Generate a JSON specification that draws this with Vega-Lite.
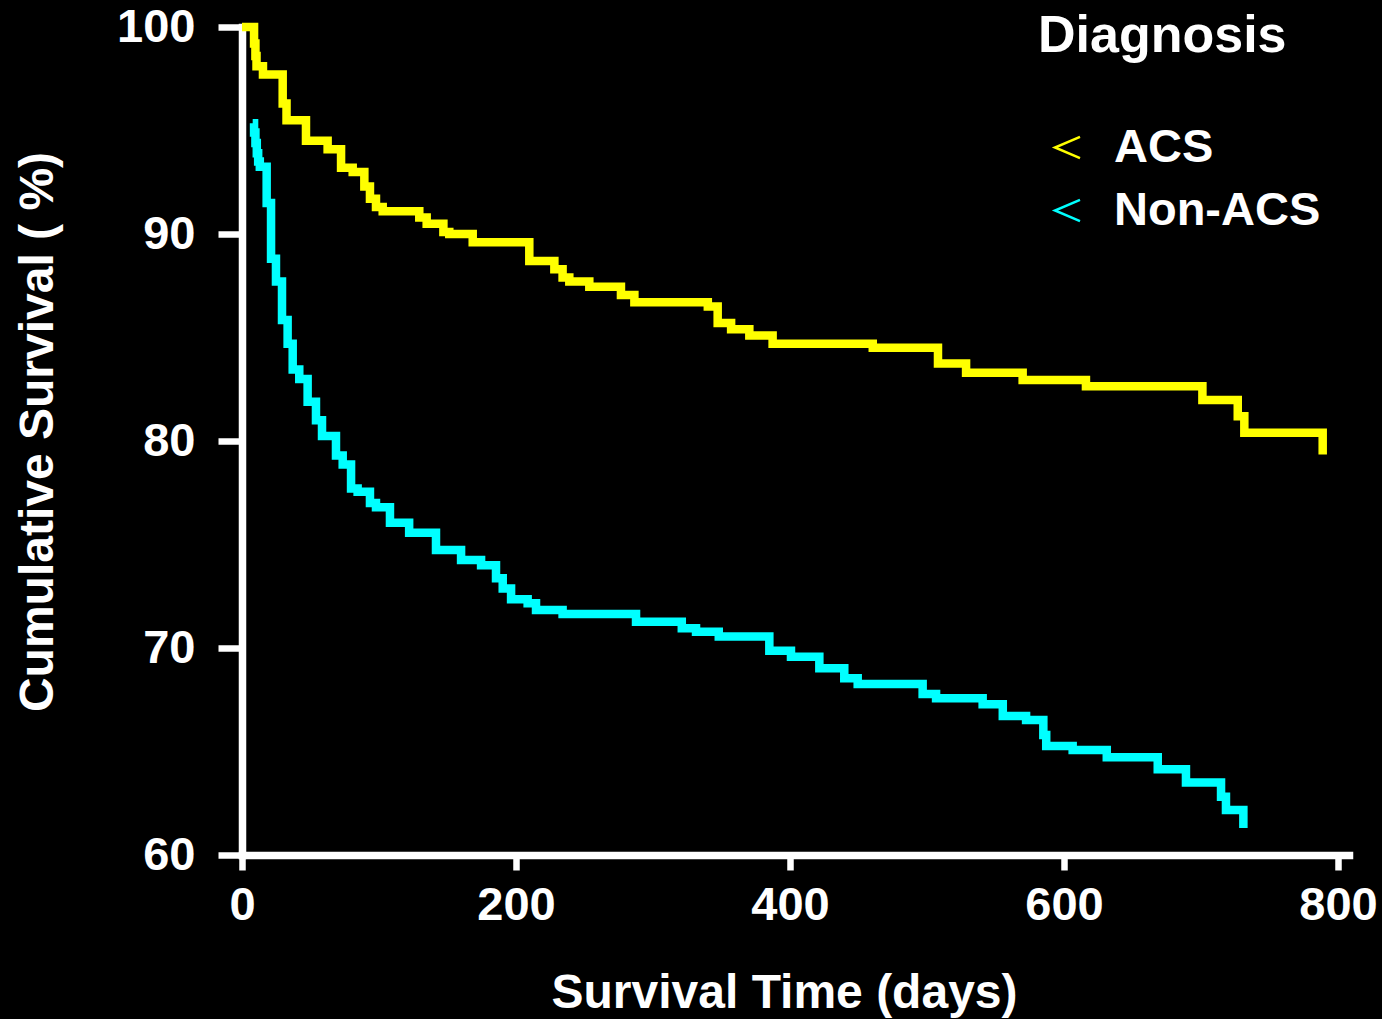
{
  "$schema": "https://vega.github.io/schema/vega-lite/v6.json",
  "width": 1107,
  "height": 828,
  "autosize": {"type": "none"},
  "padding": {"left": 242, "top": 27, "right": 33, "bottom": 164},
  "background": "black",
  "config": {
    "view": {"stroke": null},
    "font": "Liberation Sans"
  },
  "data": {
    "values": [
      {"group": "ACS", "day": 0, "pct": 100},
      {"group": "ACS", "day": 8.8, "pct": 99.2},
      {"group": "ACS", "day": 9.8, "pct": 98.6},
      {"group": "ACS", "day": 10.6, "pct": 98.1},
      {"group": "ACS", "day": 15.3, "pct": 97.7},
      {"group": "ACS", "day": 29.7, "pct": 96.3},
      {"group": "ACS", "day": 32.5, "pct": 95.5},
      {"group": "ACS", "day": 46.7, "pct": 94.5},
      {"group": "ACS", "day": 62.5, "pct": 94.1},
      {"group": "ACS", "day": 72.3, "pct": 93.2},
      {"group": "ACS", "day": 80.8, "pct": 93.0},
      {"group": "ACS", "day": 89.3, "pct": 92.3},
      {"group": "ACS", "day": 93.4, "pct": 91.7},
      {"group": "ACS", "day": 97.8, "pct": 91.3},
      {"group": "ACS", "day": 102.7, "pct": 91.1},
      {"group": "ACS", "day": 129.4, "pct": 90.8},
      {"group": "ACS", "day": 134.8, "pct": 90.5},
      {"group": "ACS", "day": 147, "pct": 90.1},
      {"group": "ACS", "day": 151.3, "pct": 90.0},
      {"group": "ACS", "day": 168.4, "pct": 89.6},
      {"group": "ACS", "day": 209.7, "pct": 88.7},
      {"group": "ACS", "day": 228, "pct": 88.3},
      {"group": "ACS", "day": 234, "pct": 87.9},
      {"group": "ACS", "day": 238.9, "pct": 87.7},
      {"group": "ACS", "day": 253.5, "pct": 87.45},
      {"group": "ACS", "day": 276.6, "pct": 87.05},
      {"group": "ACS", "day": 286.4, "pct": 86.7},
      {"group": "ACS", "day": 340, "pct": 86.5},
      {"group": "ACS", "day": 347.2, "pct": 85.7},
      {"group": "ACS", "day": 357, "pct": 85.4},
      {"group": "ACS", "day": 370.3, "pct": 85.1},
      {"group": "ACS", "day": 387.3, "pct": 84.7},
      {"group": "ACS", "day": 460.4, "pct": 84.5},
      {"group": "ACS", "day": 508, "pct": 83.75},
      {"group": "ACS", "day": 528.5, "pct": 83.3},
      {"group": "ACS", "day": 569.8, "pct": 82.95},
      {"group": "ACS", "day": 616, "pct": 82.65},
      {"group": "ACS", "day": 701, "pct": 81.98},
      {"group": "ACS", "day": 726.8, "pct": 81.2},
      {"group": "ACS", "day": 731.6, "pct": 80.4},
      {"group": "ACS", "day": 788.8, "pct": 79.35},
      {"group": "Non-ACS", "day": 7.8, "pct": 95.35},
      {"group": "Non-ACS", "day": 8.8, "pct": 94.9},
      {"group": "Non-ACS", "day": 9.8, "pct": 94.4},
      {"group": "Non-ACS", "day": 10.8, "pct": 93.9},
      {"group": "Non-ACS", "day": 11.8, "pct": 93.5},
      {"group": "Non-ACS", "day": 13, "pct": 93.25},
      {"group": "Non-ACS", "day": 18, "pct": 91.5},
      {"group": "Non-ACS", "day": 21.2, "pct": 88.8},
      {"group": "Non-ACS", "day": 24.8, "pct": 87.7},
      {"group": "Non-ACS", "day": 29.2, "pct": 85.85},
      {"group": "Non-ACS", "day": 33.3, "pct": 84.7},
      {"group": "Non-ACS", "day": 37, "pct": 83.46},
      {"group": "Non-ACS", "day": 41.8, "pct": 83.0},
      {"group": "Non-ACS", "day": 47.9, "pct": 81.9},
      {"group": "Non-ACS", "day": 54, "pct": 81.0},
      {"group": "Non-ACS", "day": 58.4, "pct": 80.24},
      {"group": "Non-ACS", "day": 68.6, "pct": 79.3},
      {"group": "Non-ACS", "day": 73.5, "pct": 78.87},
      {"group": "Non-ACS", "day": 79.6, "pct": 77.7},
      {"group": "Non-ACS", "day": 84.4, "pct": 77.55},
      {"group": "Non-ACS", "day": 93.4, "pct": 77.0},
      {"group": "Non-ACS", "day": 97.8, "pct": 76.8},
      {"group": "Non-ACS", "day": 108, "pct": 76.05},
      {"group": "Non-ACS", "day": 122, "pct": 75.57},
      {"group": "Non-ACS", "day": 141.6, "pct": 74.73},
      {"group": "Non-ACS", "day": 159.9, "pct": 74.25},
      {"group": "Non-ACS", "day": 174.5, "pct": 74.0},
      {"group": "Non-ACS", "day": 185.4, "pct": 73.37},
      {"group": "Non-ACS", "day": 190.3, "pct": 72.88},
      {"group": "Non-ACS", "day": 196.4, "pct": 72.35},
      {"group": "Non-ACS", "day": 208.5, "pct": 72.16},
      {"group": "Non-ACS", "day": 214.6, "pct": 71.84},
      {"group": "Non-ACS", "day": 234, "pct": 71.64},
      {"group": "Non-ACS", "day": 287.6, "pct": 71.27},
      {"group": "Non-ACS", "day": 321, "pct": 70.95},
      {"group": "Non-ACS", "day": 331.4, "pct": 70.79},
      {"group": "Non-ACS", "day": 348, "pct": 70.55},
      {"group": "Non-ACS", "day": 384.9, "pct": 69.87},
      {"group": "Non-ACS", "day": 400.7, "pct": 69.58},
      {"group": "Non-ACS", "day": 421.4, "pct": 69.02},
      {"group": "Non-ACS", "day": 439.6, "pct": 68.54},
      {"group": "Non-ACS", "day": 449.4, "pct": 68.26},
      {"group": "Non-ACS", "day": 496.8, "pct": 67.78},
      {"group": "Non-ACS", "day": 506.6, "pct": 67.57},
      {"group": "Non-ACS", "day": 540.6, "pct": 67.28},
      {"group": "Non-ACS", "day": 555.3, "pct": 66.71},
      {"group": "Non-ACS", "day": 572.3, "pct": 66.52},
      {"group": "Non-ACS", "day": 584.9, "pct": 65.8},
      {"group": "Non-ACS", "day": 587, "pct": 65.27},
      {"group": "Non-ACS", "day": 606.3, "pct": 65.07},
      {"group": "Non-ACS", "day": 631.2, "pct": 64.72},
      {"group": "Non-ACS", "day": 668.4, "pct": 64.14},
      {"group": "Non-ACS", "day": 689, "pct": 63.5},
      {"group": "Non-ACS", "day": 714.6, "pct": 62.82},
      {"group": "Non-ACS", "day": 718.2, "pct": 62.17},
      {"group": "Non-ACS", "day": 730.9, "pct": 61.3}
    ]
  },
  "mark": {"type": "line", "interpolate": "step-after", "strokeWidth": 8.5},
  "encoding": {
    "x": {
      "field": "day",
      "type": "quantitative",
      "scale": {"domain": [0, 808], "nice": false, "zero": false},
      "axis": {
        "values": [0, 200, 400, 600, 800],
        "grid": false,
        "domainColor": "white",
        "domainWidth": 7.5,
        "domainCap": "square",
        "tickColor": "white",
        "tickWidth": 6.5,
        "tickSize": 15,
        "labelColor": "white",
        "labelFont": "Liberation Sans",
        "labelFontWeight": "bold",
        "labelFontSize": 47,
        "labelPadding": 12,
        "labelFlush": false,
        "labelOverlap": false,
        "title": "Survival Time (days)",
        "titleColor": "white",
        "titleFont": "Liberation Sans",
        "titleFontWeight": "bold",
        "titleFontSize": 48,
        "titleX": 542,
        "titleY": 152,
        "titleAlign": "center",
        "titleBaseline": "alphabetic"
      }
    },
    "y": {
      "field": "pct",
      "type": "quantitative",
      "scale": {"domain": [60, 100], "nice": false, "zero": false},
      "axis": {
        "values": [60, 70, 80, 90, 100],
        "grid": false,
        "domainColor": "white",
        "domainWidth": 7.5,
        "domainCap": "square",
        "tickColor": "white",
        "tickWidth": 6.5,
        "tickSize": 24,
        "labelColor": "white",
        "labelFont": "Liberation Sans",
        "labelFontWeight": "bold",
        "labelFontSize": 47,
        "labelPadding": 23,
        "labelFlush": false,
        "labelOverlap": false,
        "title": "Cumulative Survival ( %)",
        "titleColor": "white",
        "titleFont": "Liberation Sans",
        "titleFontWeight": "bold",
        "titleFontSize": 48,
        "titleAngle": 270,
        "titleX": -190,
        "titleY": 404.5,
        "titleAlign": "center",
        "titleBaseline": "alphabetic"
      }
    },
    "color": {
      "field": "group",
      "type": "nominal",
      "scale": {"domain": ["ACS", "Non-ACS"], "range": ["#FFFF00", "#00FFFF"]},
      "legend": {
        "title": "Diagnosis",
        "orient": "none",
        "legendX": 796,
        "legendY": -16,
        "padding": 0,
        "titleColor": "white",
        "titleFont": "Liberation Sans",
        "titleFontWeight": "bold",
        "titleFontSize": 52,
        "titleLimit": 0,
        "titlePadding": 61,
        "labelColor": "white",
        "labelFont": "Liberation Sans",
        "labelFontWeight": "bold",
        "labelFontSize": 47,
        "labelLimit": 0,
        "labelOffset": 23,
        "symbolType": "M1,-0.85L-1,0L1,0.85",
        "symbolSize": 625,
        "symbolStrokeWidth": 2.5,
        "symbolFillColor": "transparent",
        "symbolOffset": 6,
        "rowPadding": 15
      }
    }
  }
}
